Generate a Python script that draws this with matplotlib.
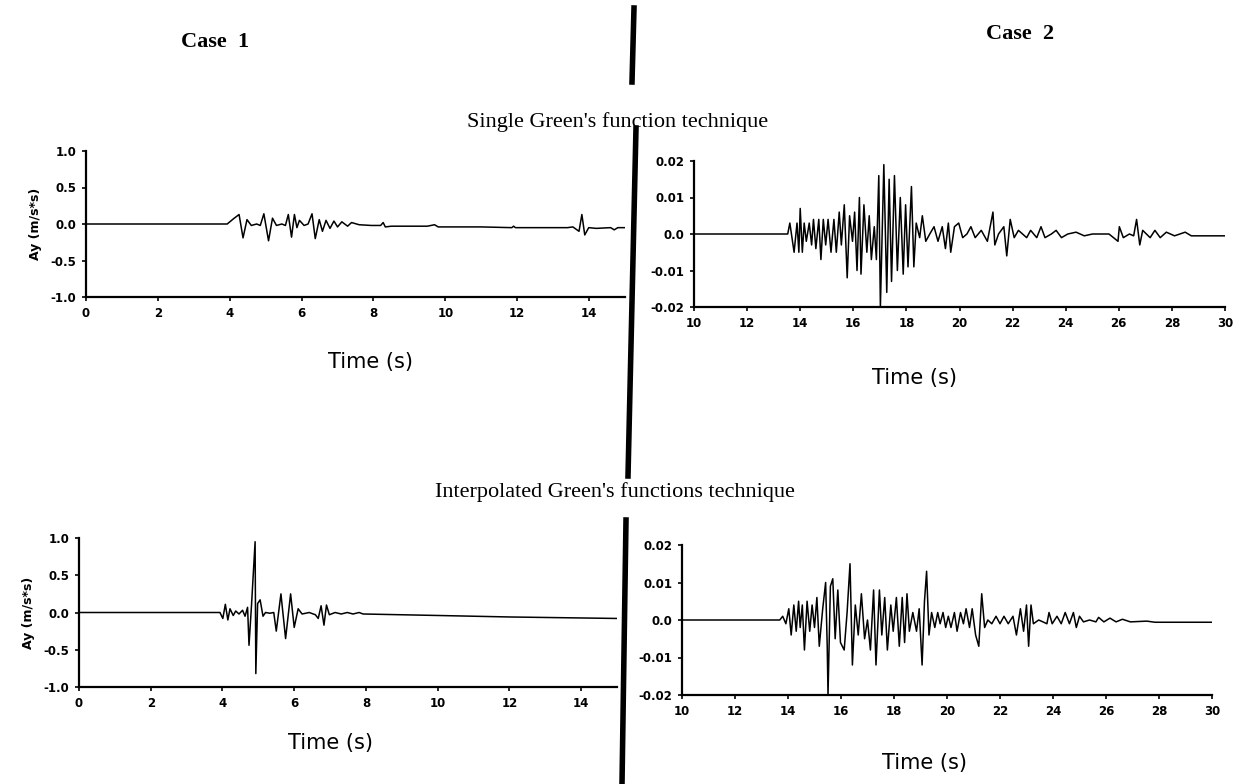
import matplotlib
matplotlib.use("Agg")
import matplotlib.pyplot as plt
from matplotlib.lines import Line2D

# Case 1 - single Green's function (time s, Ay m/s*s)
c1_single_t = [0.0, 3.93, 4.1, 4.26, 4.37, 4.48, 4.6, 4.75, 4.85, 4.95, 5.08, 5.19, 5.3, 5.45, 5.55,
               5.63, 5.72, 5.8, 5.87, 5.94, 6.07, 6.18, 6.29, 6.38, 6.49, 6.58, 6.68, 6.79, 6.9, 7.0,
               7.12, 7.28, 7.39, 7.6, 7.94, 8.2, 8.27, 8.33, 8.5, 9.5, 9.7, 9.8, 11.0, 11.85, 11.9,
               11.95, 13.4, 13.55, 13.72, 13.8, 13.88, 13.99, 14.2, 14.6, 14.7, 14.8, 15.0]
c1_single_a = [0.0, 0.0, 0.07, 0.13, -0.19, 0.06, -0.02, 0.0, -0.02, 0.14, -0.23, 0.08, -0.02, 0.0, -0.02,
               0.13, -0.18, 0.13, -0.05, 0.05, -0.02, 0.0, 0.14, -0.2, 0.06, -0.1, 0.05, -0.06, 0.04, -0.04,
               0.03, -0.03, 0.02, -0.01, -0.02, -0.02, 0.02, -0.04, -0.03, -0.03, -0.01, -0.04, -0.04, -0.05, -0.03,
               -0.05, -0.05, -0.04, -0.1, 0.13, -0.15, -0.05, -0.06, -0.05, -0.08, -0.05, -0.05]

# Case 2 - single Green's function
c2_single_t = [10.0, 13.53, 13.61, 13.77, 13.88, 13.95, 14.0, 14.08, 14.15, 14.23, 14.34, 14.43, 14.5,
               14.59, 14.7, 14.78, 14.87, 14.96, 15.05, 15.16, 15.27, 15.36, 15.47, 15.55, 15.66, 15.77,
               15.86, 15.97, 16.05, 16.14, 16.23, 16.29, 16.4, 16.51, 16.6, 16.68, 16.79, 16.87, 16.96,
               17.02, 17.15, 17.26, 17.35, 17.44, 17.55, 17.66, 17.77, 17.88, 17.97, 18.06, 18.19, 18.28,
               18.37, 18.5, 18.6, 18.73, 18.88, 19.04, 19.19, 19.35, 19.47, 19.58, 19.67, 19.81, 19.97,
               20.12, 20.28, 20.43, 20.59, 20.82, 21.05, 21.26, 21.33, 21.47, 21.67, 21.78, 21.91, 22.06,
               22.22, 22.53, 22.68, 22.91, 23.07, 23.22, 23.46, 23.64, 23.84, 24.08, 24.39, 24.7, 25.01,
               25.63, 25.97, 26.02, 26.17, 26.4, 26.56, 26.67, 26.79, 26.9, 27.18, 27.36, 27.56, 27.79,
               28.1, 28.5, 28.73, 30.0]
c2_single_a = [0.0, 0.0, 0.003, -0.005, 0.003, -0.005, 0.007, -0.005, 0.003, -0.002, 0.003, -0.003, 0.004,
               -0.004, 0.004, -0.007, 0.004, -0.003, 0.004, -0.005, 0.004, -0.005, 0.006, -0.003, 0.008, -0.012,
               0.005, -0.002, 0.006, -0.01, 0.01, -0.011, 0.008, -0.005, 0.005, -0.007, 0.002, -0.007, 0.016,
               -0.02, 0.019, -0.016, 0.015, -0.013, 0.016, -0.01, 0.01, -0.011, 0.008, -0.009, 0.013, -0.009,
               0.003, -0.001, 0.005, -0.002, 0.0, 0.002, -0.002, 0.002, -0.004, 0.003, -0.005, 0.002, 0.003,
               -0.001, 0.0, 0.002, -0.001, 0.001, -0.002, 0.006, -0.003, 0.0, 0.002, -0.006, 0.004, -0.001,
               0.001, -0.001, 0.001, -0.001, 0.002, -0.001, 0.0, 0.001, -0.001, 0.0, 0.0005, -0.0005, 0.0,
               0.0, -0.002, 0.002, -0.001, 0.0, -0.0005, 0.004, -0.003, 0.001, -0.001, 0.001, -0.001, 0.0005,
               -0.0005, 0.0005, -0.0005, -0.0005]

# Case 1 - interpolated Green's functions
c1_interp_t = [0.0, 3.93, 4.01, 4.08, 4.15, 4.21, 4.3, 4.37, 4.46, 4.56, 4.63, 4.7, 4.74, 4.81, 4.91,
               4.93, 4.98, 5.05, 5.13, 5.2, 5.32, 5.43, 5.5, 5.63, 5.76, 5.9, 6.0, 6.11, 6.22, 6.42,
               6.59, 6.67, 6.75, 6.83, 6.9, 6.98, 7.14, 7.31, 7.48, 7.64, 7.81, 7.92, 10.0, 12.0, 15.0]
c1_interp_a = [0.0, 0.0, -0.08, 0.11, -0.1, 0.05, -0.04, 0.02, -0.02, 0.03, -0.05, 0.07, -0.44, 0.1, 0.95,
               -0.82, 0.12, 0.17, -0.05, 0.0, -0.01, 0.0, -0.25, 0.25, -0.35, 0.25, -0.2, 0.05, -0.02, 0.0,
               -0.03, -0.08, 0.09, -0.17, 0.1, -0.03, 0.0, -0.02, 0.0, -0.02, 0.0, -0.02, -0.04, -0.06, -0.08]

# Case 2 - interpolated Green's functions
c2_interp_t = [10.0, 13.69, 13.8, 13.92, 14.03, 14.12, 14.22, 14.31, 14.4, 14.46, 14.54, 14.62, 14.72,
               14.82, 14.91, 15.0, 15.09, 15.18, 15.31, 15.42, 15.48, 15.51, 15.6, 15.69, 15.78, 15.88,
               15.98, 16.12, 16.23, 16.34, 16.43, 16.54, 16.65, 16.77, 16.89, 17.0, 17.11, 17.23, 17.32,
               17.45, 17.54, 17.65, 17.75, 17.88, 17.97, 18.09, 18.2, 18.31, 18.4, 18.49, 18.58, 18.71,
               18.85, 18.95, 19.06, 19.15, 19.23, 19.32, 19.42, 19.54, 19.65, 19.74, 19.85, 19.95, 20.05,
               20.15, 20.28, 20.38, 20.51, 20.62, 20.72, 20.85, 20.95, 21.08, 21.2, 21.31, 21.42, 21.54,
               21.69, 21.85, 22.0, 22.15, 22.31, 22.49, 22.62, 22.77, 22.89, 23.0, 23.08, 23.17, 23.26,
               23.46, 23.62, 23.77, 23.85, 23.97, 24.15, 24.31, 24.46, 24.62, 24.77, 24.88, 25.0, 25.15,
               25.38, 25.62, 25.72, 25.92, 26.15, 26.38, 26.62, 26.92, 27.54, 27.85, 30.0]
c2_interp_a = [0.0, 0.0, 0.001, -0.001, 0.003, -0.004, 0.004, -0.003, 0.005, -0.002, 0.004, -0.008, 0.005,
               -0.003, 0.004, -0.002, 0.006, -0.007, 0.003, 0.01, -0.007, -0.02, 0.009, 0.011, -0.005, 0.008,
               -0.006, -0.008, 0.002, 0.015, -0.012, 0.004, -0.004, 0.007, -0.005, 0.0, -0.008, 0.008, -0.012,
               0.008, -0.004, 0.006, -0.008, 0.004, -0.003, 0.006, -0.007, 0.006, -0.006, 0.007, -0.003, 0.002,
               -0.003, 0.003, -0.012, 0.005, 0.013, -0.004, 0.002, -0.002, 0.002, -0.001, 0.002, -0.002, 0.001,
               -0.002, 0.002, -0.003, 0.002, -0.001, 0.003, -0.002, 0.003, -0.004, -0.007, 0.007, -0.002, 0.0,
               -0.001, 0.001, -0.001, 0.001, -0.001, 0.001, -0.004, 0.003, -0.003, 0.004, -0.007, 0.004, -0.001,
               0.0, -0.0005, -0.001, 0.002, -0.001, 0.001, -0.001, 0.002, -0.001, 0.002, -0.002, 0.001, -0.0005,
               0.0, -0.0005, 0.0007, -0.0005, 0.0005, -0.0005, 0.0002, -0.0005, -0.0003, -0.0006, -0.0006]

left_yticks = [-1.0, -0.5, 0.0, 0.5, 1.0]
left_ylabels = ["-1.0", "-0.5", "0.0", "0.5", "1.0"]
right_yticks = [-0.02, -0.01, 0.0, 0.01, 0.02]
right_ylabels = ["-0.02", "-0.01", "0.0", "0.01", "0.02"]
left_xticks = [0, 2, 4, 6, 8, 10, 12, 14]
right_xticks = [10, 12, 14, 16, 18, 20, 22, 24, 26, 28, 30]

W, H = 1244, 784
fig = plt.figure(figsize=(W / 100, H / 100), dpi=100)


def box(x0, y0, x1, y1):
    # pixel box (top-left origin) -> figure fraction rect
    return [x0 / W, 1 - y1 / H, (x1 - x0) / W, (y1 - y0) / H]


def px(x, y):
    return x / W, 1 - y / H


def panel(rect, t, a, xlim, ylim, xticks, yticks, ylabels, ylabel=None):
    ax = fig.add_axes(rect)
    ax.plot(t, a, color="black", lw=1.1)
    ax.set_xlim(*xlim)
    ax.set_ylim(*ylim)
    ax.set_xticks(xticks)
    ax.set_xticklabels([str(v) for v in xticks])
    ax.set_yticks(yticks)
    ax.set_yticklabels(ylabels)
    for s in ["top", "right"]:
        ax.spines[s].set_visible(False)
    for s in ["left", "bottom"]:
        ax.spines[s].set_linewidth(1.6)
    ax.tick_params(direction="out", length=3, width=1.2, labelsize=8.5, pad=4)
    for lab in ax.get_xticklabels() + ax.get_yticklabels():
        lab.set_fontweight("bold")
    ax.patch.set_alpha(0)
    if ylabel:
        ax.set_ylabel(ylabel, fontsize=9, fontweight="bold", labelpad=6)
    return ax


panel(box(86, 151, 625, 297), c1_single_t, c1_single_a, (0, 15), (-1.0, 1.0),
      left_xticks, left_yticks, left_ylabels, "Ay (m/s*s)")
panel(box(694, 161, 1225, 307), c2_single_t, c2_single_a, (10, 30), (-0.02, 0.02),
      right_xticks, right_yticks, right_ylabels)
panel(box(79, 538, 617, 687), c1_interp_t, c1_interp_a, (0, 15), (-1.0, 1.0),
      left_xticks, left_yticks, left_ylabels, "Ay (m/s*s)")
panel(box(682, 545, 1212, 695), c2_interp_t, c2_interp_a, (10, 30), (-0.02, 0.02),
      right_xticks, right_yticks, right_ylabels)

# headings
fig.text(*px(215, 42), "Case  1", ha="center", va="center", fontsize=16,
         fontweight="bold", family="Liberation Serif")
fig.text(*px(1020, 34), "Case  2", ha="center", va="center", fontsize=16,
         fontweight="bold", family="Liberation Serif")
fig.text(*px(618, 122), "Single Green's function technique", ha="center", va="center",
         fontsize=16, family="Liberation Serif")
fig.text(*px(615, 492), "Interpolated Green's functions technique", ha="center", va="center",
         fontsize=16, family="Liberation Serif")

# time labels
for x, y in [(370, 362), (915, 378), (330, 743), (925, 763)]:
    fig.text(*px(x, y), "Time (s)", ha="center", va="center", fontsize=15, family="DejaVu Sans")

# thick divider bar
for (x0, y0), (x1, y1) in [((634, 8), (632, 82)), ((636, 128), (628, 476)), ((626, 520), (622, 784))]:
    fig.add_artist(Line2D([x0 / W, x1 / W], [1 - y0 / H, 1 - y1 / H], color="black", lw=4.0))

fig.savefig("out.png", dpi=100)
